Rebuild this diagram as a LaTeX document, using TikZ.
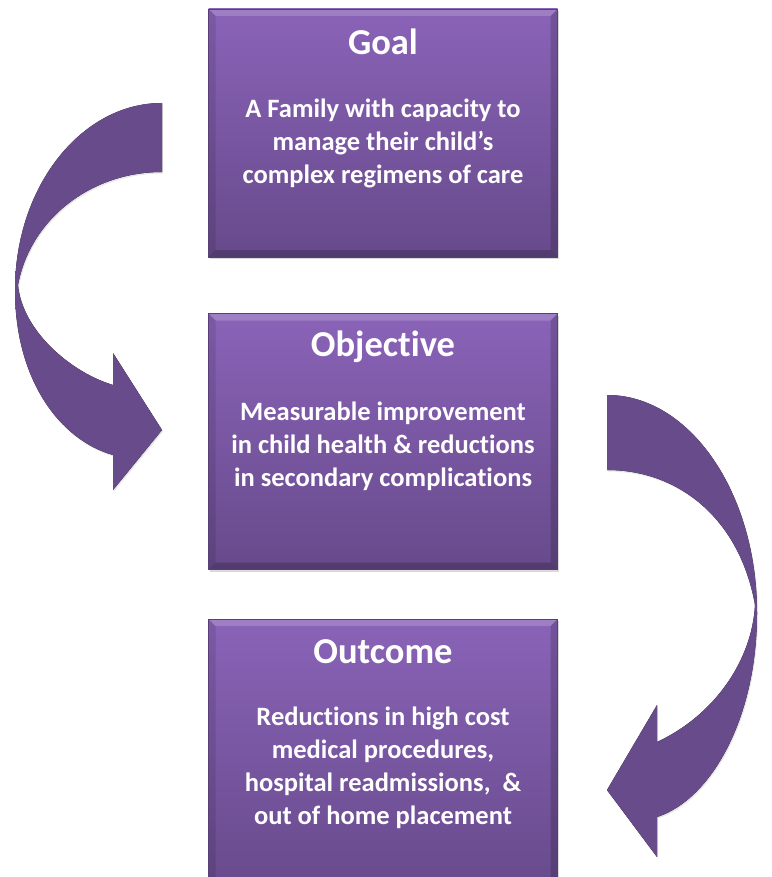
\documentclass[tikz,border=0pt]{standalone}
\usepackage{fontspec}
\setmainfont{Carlito}[Ligatures={TeX,NoCommon}]
\usetikzlibrary{positioning,shadows}
\definecolor{boxtop}{HTML}{8A63B8}
\definecolor{boxbot}{HTML}{674A8B}
\definecolor{arrdark}{HTML}{684B8A}
\definecolor{arrlight}{HTML}{7A58A6}

\begin{document}
\begin{tikzpicture}[x=1pt,y=-1pt,
    stage/.style={minimum width=349pt, inner sep=0pt, top color=boxtop, bottom color=boxbot,
        draw=boxbot!85!black, line width=0.5pt,
        drop shadow={opacity=0.3, shadow xshift=1.5pt, shadow yshift=-2pt},
        path picture={
            \fill[white, opacity=0.18] (path picture bounding box.north west) -- (path picture bounding box.north east)
                -- ([shift={(-7pt,-7pt)}]path picture bounding box.north east) -- ([shift={(7pt,-7pt)}]path picture bounding box.north west) -- cycle;
            \fill[black, opacity=0.10] (path picture bounding box.north west) -- (path picture bounding box.south west)
                -- ([shift={(7pt,7pt)}]path picture bounding box.south west) -- ([shift={(7pt,-7pt)}]path picture bounding box.north west) -- cycle;
            \fill[black, opacity=0.16] (path picture bounding box.north east) -- (path picture bounding box.south east)
                -- ([shift={(-7pt,7pt)}]path picture bounding box.south east) -- ([shift={(-7pt,-7pt)}]path picture bounding box.north east) -- cycle;
            \fill[black, opacity=0.20] (path picture bounding box.south west) -- (path picture bounding box.south east)
                -- ([shift={(-7pt,7pt)}]path picture bounding box.south east) -- ([shift={(7pt,7pt)}]path picture bounding box.south west) -- cycle;
        }},
    stagetitle/.style={anchor=base, inner sep=0pt, text=white, font=\bfseries\fontsize{36.5}{40}\selectfont},
    stagebody/.style={anchor=north, inner sep=0pt, text=white, align=center, font=\bfseries\fontsize{26.5}{33}\selectfont},
    turnarrow/.style={top color=arrdark, middle color=arrlight, bottom color=arrdark,
        drop shadow={opacity=0.2, shadow xshift=1pt, shadow yshift=-1.5pt}}]
    \useasboundingbox (0,0) rectangle (771,877);
    \clip (0,0) rectangle (771,877);

    \node[stage, minimum height=248pt] (goal) at (383,133) {};
    \node[stage, minimum height=256pt, below=56pt of goal] (objective) {};
    \node[stage, minimum height=270pt, below=49pt of objective] (outcome) {};

    \node[stagetitle] (goaltitle) at ([yshift=-46pt]goal.north) {Goal};
    \node[stagebody] (goalbody) at ([yshift=-44pt]goaltitle.base) {A Family with capacity to\\ manage their child's\\ complex regimens of care};
    \node[stagetitle] (objectivetitle) at ([yshift=-43pt]objective.north) {Objective};
    \node[stagebody] (objectivebody) at ([yshift=-45pt]objectivetitle.base) {Measurable improvement\\ in child health \& reductions\\ in secondary complications};
    \node[stagetitle] (outcometitle) at ([yshift=-45pt]outcome.north) {Outcome};
    \node[stagebody] (outcomebody) at ([yshift=-43pt]outcometitle.base) {Reductions in high cost\\ medical procedures,\\ hospital readmissions,\ \ \&\\ out of home placement};

    \fill[turnarrow] (162,103) .. controls (81,103) and (15,187) .. (15,290)
        .. controls (15,380) and (60,440) .. (113,455) -- (113,490) -- (162,430) -- (113,353) -- (113,385)
        .. controls (70,372) and (22,330) .. (18,285)
        .. controls (30,220) and (90,172) .. (162,172) -- cycle;
    \fill[turnarrow] (607,395) .. controls (690,395) and (757,493) .. (757,613)
        .. controls (757,720) and (710,800) .. (657,817) -- (657,857) -- (607,790) -- (657,705) -- (657,742)
        .. controls (715,715) and (752,660) .. (755,605)
        .. controls (740,520) and (680,470) .. (607,470) -- cycle;
\end{tikzpicture}
\end{document}
